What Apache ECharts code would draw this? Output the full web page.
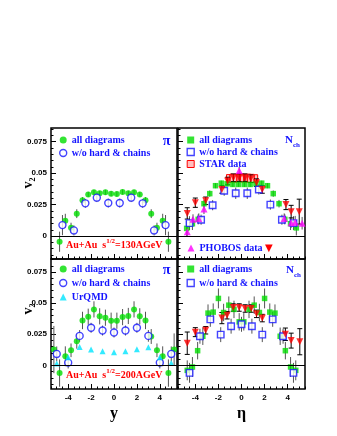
<!DOCTYPE html>
<html><head><meta charset="utf-8">
<script src="https://cdn.jsdelivr.net/npm/echarts@6/dist/echarts.min.js"></script>
<style>html,body{margin:0;padding:0;background:#fff}#c{width:337px;height:436px}</style>
</head><body><div id="c"></div>
<script>
// ---------- tick values ----------
const xTickLabels = [-4, -2, 0, 2, 4];
const xMinorTicks = [-5.5,-5,-4.5,-3.5,-3,-2.5,-1.5,-1,-0.5,0.5,1,1.5,2.5,3,3.5,4.5,5,5.5];
const yTickLabels = [0, 0.025, 0.05, 0.075];
const yMinorTicks = [-0.015,-0.01,-0.005,0.005,0.01,0.015,0.02,0.03,0.035,0.04,0.045,0.055,0.06,0.065,0.07,0.08,0.085];

// ---------- top-left: Au+Au 130 AGeV, pions vs y ----------
const tlGreenX = [-4.75,-4.25,-3.75,-3.25,-2.75,-2.25,-1.75,-1.25,-0.75,-0.25,0.25,0.75,1.25,1.75,2.25,2.75,3.25,3.75,4.25,4.75];
const tlGreenV = [-0.0045,0.0122,0.0066,0.0178,0.0284,0.0331,0.0347,0.0339,0.0347,0.0337,0.0334,0.035,0.0339,0.0347,0.0331,0.0284,0.0178,0.0066,0.0122,-0.0045];
const tlGreenE = [0.008,0.0055,0.004,0.0035,0.0025,0.002,0.002,0.002,0.002,0.002,0.002,0.002,0.002,0.002,0.002,0.0025,0.0035,0.004,0.0055,0.008];
const tlBlueX = [-4.5,-3.5,-2.5,-1.5,-0.5,0.5,1.5,2.5,3.5,4.5];
const tlBlueV = [0.0087,0.0045,0.026,0.0305,0.0262,0.0262,0.0305,0.026,0.0045,0.0087];
const tlBlueE = [0.008,0.004,0.0035,0.0035,0.0035,0.0035,0.0035,0.0035,0.004,0.008];

// ---------- top-right: 130 AGeV, charged vs eta ----------
const trGreenX = [-4.75,-4.25,-3.75,-3.25,-2.75,-2.25,-1.75,-1.25,-0.75,-0.25,0.25,0.75,1.25,1.75,2.25,2.75,3.25,3.75,4.25,4.75];
const trGreenV = [0.0061,0.0098,0.0133,0.0257,0.0337,0.0400,0.042,0.0415,0.041,0.041,0.041,0.041,0.0415,0.042,0.0400,0.0337,0.0257,0.0133,0.0098,0.0065];
const trGreenE = [0.006,0.005,0.004,0.003,0.0025,0.002,0.002,0.002,0.002,0.002,0.002,0.002,0.002,0.002,0.002,0.0025,0.003,0.004,0.005,0.006];
const trBlueX = [-4.5,-3.5,-2.5,-1.5,-0.5,0.5,1.5,2.5,3.5,4.5];
const trBlueV = [0.0103,0.013,0.0245,0.036,0.034,0.034,0.037,0.025,0.013,0.0103];
const trBlueE = [0.0055,0.004,0.004,0.004,0.0045,0.0045,0.004,0.004,0.004,0.0055];
const trPhobosDnX = [-4.7,-4.0,-3.1,-1.7,-1.2,-0.7,-0.2,0.3,0.8,1.3,1.8,3.85,4.3,5.0];
const trPhobosDnV = [0.018,0.0265,0.028,0.037,0.0437,0.0463,0.0463,0.0463,0.0455,0.0424,0.037,0.025,0.0194,0.0194];
const trPhobosDnE = [0.0045,0.0037,0.003,0.003,0.003,0.003,0.003,0.003,0.003,0.003,0.003,0.004,0.005,0.0099];
const trPhobosUpX = [-4.7,-4.2,-3.7,-3.25,-0.2,3.7,4.3,4.65,5.25];
const trPhobosUpV = [0.0035,0.0133,0.014,0.0215,0.052,0.014,0.0105,0.011,0.0102];
const trPhobosUpE = [0.004,0.004,0.004,0.004,0.003,0.004,0.004,0.005,0.005];
const starX = [-1.15,-0.85,-0.55,-0.25,0.05,0.35,0.65,0.95,1.25];
const starLo = [0.0425,0.0427,0.0427,0.0429,0.0429,0.0427,0.0427,0.0425,0.0423];
const starHi = [0.0488,0.0492,0.0492,0.0494,0.0494,0.0492,0.0492,0.049,0.0487];

// ---------- bottom-left: 200 AGeV, pions vs y ----------
const blGreenX = [-5.25,-4.75,-4.25,-3.75,-3.25,-2.75,-2.25,-1.75,-1.25,-0.75,-0.25,0.25,0.75,1.25,1.75,2.25,2.75,3.25,3.75,4.25,4.75,5.25];
const blGreenV = [0.0127,-0.0062,0.0073,0.0121,0.0194,0.0361,0.0391,0.045,0.0394,0.0383,0.0359,0.0359,0.0388,0.0397,0.045,0.0394,0.0361,0.0232,0.0121,0.0073,-0.0062,0.0127];
const blGreenE = [0.019,0.011,0.008,0.0055,0.006,0.007,0.0065,0.0065,0.0065,0.0065,0.0065,0.0065,0.0065,0.0065,0.0065,0.0065,0.007,0.006,0.0055,0.008,0.011,0.013];
const blBlueX = [-5,-4,-3,-2,-1,0,1,2,3,4,5];
const blBlueV = [0.0092,0.0022,0.0237,0.0302,0.028,0.0264,0.028,0.0302,0.0237,0.0022,0.0092];
const blBlueE = [0.006,0.0047,0.0047,0.004,0.004,0.004,0.004,0.004,0.0047,0.0047,0.006];
const blUrqmdX = [-5,-4,-3,-2,-1,0,1,2,3,4,5];
const blUrqmdV = [0.0015,0.0065,0.0148,0.0127,0.0113,0.0105,0.0113,0.0129,0.0145,0.0065,0.0019];

// ---------- bottom-right: 200 AGeV, charged vs eta ----------
const brGreenX = [-4.7,-4.25,-3.8,-3.35,-2.9,-2.45,-2.0,-1.55,-1.1,-0.65,-0.2,0.2,0.65,1.1,1.55,2.0,2.45,2.9,3.35,3.8,4.25,4.7];
const brGreenV = [-0.004,-0.0013,0.0118,0.0234,0.042,0.0428,0.0538,0.0425,0.0484,0.045,0.035,0.035,0.045,0.0484,0.0425,0.0538,0.0428,0.042,0.0234,0.0118,-0.0013,-0.004];
const brGreenE = [0.008,0.008,0.007,0.007,0.007,0.007,0.008,0.007,0.007,0.007,0.007,0.007,0.007,0.007,0.007,0.008,0.007,0.007,0.007,0.007,0.008,0.008];
const brBlueX = [-4.5,-3.6,-2.7,-1.8,-0.9,0,0.9,1.8,2.7,3.6,4.5];
const brBlueV = [-0.006,0.0234,0.037,0.0247,0.0315,0.033,0.0315,0.0247,0.037,0.0234,-0.006];
const brBlueE = [0.008,0.006,0.006,0.006,0.006,0.006,0.006,0.006,0.006,0.006,0.008];
const brPhobosDnX = [-4.7,-4.0,-3.1,-1.7,-1.25,-0.72,-0.2,0.32,0.84,1.3,1.8,3.8,4.3,5.05];
const brPhobosDnV = [0.0178,0.0267,0.0282,0.038,0.0403,0.0465,0.0465,0.0457,0.0457,0.0414,0.038,0.025,0.0199,0.019];
const brPhobosDnE = [0.009,0.0036,0.003,0.0045,0.003,0.003,0.003,0.003,0.003,0.003,0.003,0.005,0.006,0.0105];

// ---------- styling ----------
const GREEN = '#00dd00', BLUE = '#1414ff', RED = '#ff0000', MAG = '#ff00ff', CYAN = '#00e5ff';
const BAR = '#555555';
const SERIF = '"Liberation Serif", "DejaVu Serif", serif';
const SANS = '"Liberation Sans", Arial, sans-serif';

const chart = echarts.init(document.getElementById('c'), null, {renderer: 'canvas'});

const grids = [
  {left: 51, top: 128, width: 126, height: 131},
  {left: 178, top: 128, width: 127, height: 131},
  {left: 51, top: 259, width: 126, height: 130},
  {left: 178, top: 259, width: 127, height: 130}
].map(g => Object.assign(g, {show: true, borderColor: '#000', borderWidth: 1.5, backgroundColor: 'transparent'}));

const yRanges = [[-0.0182, 0.0858], [-0.0182, 0.0858], [-0.019, 0.0855], [-0.019, 0.0855]];

const xAxes = [], yAxes = [];
for (let g = 0; g < 4; g++) {
  const bottom = g >= 2;
  xAxes.push({
    type: 'value', gridIndex: g, min: -5.5, max: 5.5, position: 'bottom',
    axisLine: {show: false, onZero: false},
    axisTick: {show: true, inside: true, length: 5, customValues: xTickLabels, lineStyle: {color: '#000', width: 1}},
    axisLabel: {show: bottom, customValues: xTickLabels, margin: 5, fontSize: 8, fontWeight: 'bold', fontFamily: SANS, color: '#000',
      formatter: v => String(v)},
    splitLine: {show: false},
    name: bottom ? (g === 2 ? 'y' : 'η') : '', nameLocation: 'middle', nameGap: 17,
    nameTextStyle: {fontSize: 16, fontWeight: 'bold', fontFamily: SERIF, color: '#000'}
  });
  yAxes.push({
    type: 'value', gridIndex: g, min: yRanges[g][0], max: yRanges[g][1], position: 'left',
    axisLine: {show: false, onZero: false},
    axisTick: {show: true, inside: true, length: 5, customValues: yTickLabels, lineStyle: {color: '#000', width: 1}},
    axisLabel: {show: g % 2 === 0, customValues: yTickLabels, margin: 4, fontSize: 8, fontWeight: 'bold', fontFamily: SANS, color: '#000',
      formatter: v => String(v)},
    splitLine: {show: false}
  });
}
for (let g = 0; g < 4; g++) {
  xAxes.push({
    type: 'value', gridIndex: g, min: -5.5, max: 5.5, position: 'bottom',
    axisLine: {show: false, onZero: false},
    axisTick: {show: true, inside: true, length: 2.5, customValues: xMinorTicks, lineStyle: {color: '#000', width: 1}},
    axisLabel: {show: false}, splitLine: {show: false}
  });
  yAxes.push({
    type: 'value', gridIndex: g, min: yRanges[g][0], max: yRanges[g][1], position: 'left',
    axisLine: {show: false, onZero: false},
    axisTick: {show: true, inside: true, length: 2.5, customValues: yMinorTicks, lineStyle: {color: '#000', width: 1}},
    axisLabel: {show: false}, splitLine: {show: false}
  });
}

function zip(xs, vs) { return xs.map((x, i) => [x, vs[i]]); }
function zip3(xs, vs, es) { return xs.map((x, i) => [x, vs[i], es[i]]); }

function errSeries(g, xs, vs, es, color, cap) {
  return {
    type: 'custom', xAxisIndex: g, yAxisIndex: g, clip: true, silent: true, z: 2, animation: false,
    encode: {x: 0, y: 1},
    data: zip3(xs, vs, es),
    renderItem: (params, api) => {
      const x = api.value(0), v = api.value(1), e = api.value(2);
      const lo = api.coord([x, v - e]), hi = api.coord([x, v + e]);
      const st = {stroke: color, lineWidth: 1};
      const ch = [{type: 'line', shape: {x1: lo[0], y1: lo[1], x2: hi[0], y2: hi[1]}, style: st}];
      if (cap) {
        ch.push({type: 'line', shape: {x1: lo[0] - cap, y1: lo[1], x2: lo[0] + cap, y2: lo[1]}, style: st});
        ch.push({type: 'line', shape: {x1: hi[0] - cap, y1: hi[1], x2: hi[0] + cap, y2: hi[1]}, style: st});
      }
      return {type: 'group', children: ch};
    }
  };
}

function scat(name, g, xs, vs, symbol, size, itemStyle, rot, extra) {
  return Object.assign({
    type: 'scatter', name, xAxisIndex: g, yAxisIndex: g, symbol, symbolSize: size, symbolRotate: rot || 0,
    itemStyle, data: zip(xs, vs), z: 3, silent: true, animation: false
  }, extra || {});
}

const zeroLine = {silent: true, symbol: 'none', animation: false, label: {show: false},
  lineStyle: {color: '#000', width: 1.2, type: 'solid'}, data: [{yAxis: 0}]};

const openBlue = {color: '#ffffff', borderColor: BLUE, borderWidth: 1.4};

const series = [
  // grid 0
  errSeries(0, tlGreenX, tlGreenV, tlGreenE, BAR),
  errSeries(0, tlBlueX, tlBlueV, tlBlueE, BAR),
  scat('all diagrams#0', 0, tlGreenX, tlGreenV, 'circle', 6, {color: GREEN}, 0, {markLine: zeroLine}),
  scat('w/o hard & chains#0', 0, tlBlueX, tlBlueV, 'circle', 7, openBlue),
  // grid 1
  {
    type: 'custom', name: 'STAR data#1', xAxisIndex: 1, yAxisIndex: 1, silent: true, z: 1, animation: false,
    encode: {x: 0, y: [1, 2]},
    itemStyle: {color: 'rgba(255,110,110,0.45)', borderColor: RED, borderWidth: 1},
    data: starX.map((x, i) => [x, starLo[i], starHi[i]]),
    renderItem: (params, api) => {
      const x = api.value(0), a = api.coord([x - 0.15, api.value(2)]), b = api.coord([x + 0.15, api.value(1)]);
      return {type: 'rect', shape: {x: a[0], y: a[1], width: b[0] - a[0], height: b[1] - a[1]},
        style: {fill: 'rgba(255,110,110,0.45)', stroke: RED, lineWidth: 1}};
    }
  },
  errSeries(1, trGreenX, trGreenV, trGreenE, BAR),
  errSeries(1, trBlueX, trBlueV, trBlueE, BAR),
  errSeries(1, trPhobosUpX, trPhobosUpV, trPhobosUpE, BAR),
  errSeries(1, trPhobosDnX, trPhobosDnV, trPhobosDnE, '#000', 2.5),
  scat('all diagrams#1', 1, trGreenX, trGreenV, 'rect', 5.5, {color: GREEN}, 0, {markLine: zeroLine}),
  scat('w/o hard & chains#1', 1, trBlueX, trBlueV, 'rect', 6.5, openBlue),
  scat('PHOBOS data#1', 1, trPhobosUpX, trPhobosUpV, 'triangle', 7, {color: MAG}),
  scat('PHOBOS dn#1', 1, trPhobosDnX, trPhobosDnV, 'triangle', 7, {color: RED}, 180),
  // grid 2
  errSeries(2, blGreenX, blGreenV, blGreenE, BAR),
  errSeries(2, blBlueX, blBlueV, blBlueE, BAR),
  scat('all diagrams#2', 2, blGreenX, blGreenV, 'circle', 6, {color: GREEN}, 0, {markLine: zeroLine}),
  scat('w/o hard & chains#2', 2, blBlueX, blBlueV, 'circle', 7, openBlue),
  scat('UrQMD#2', 2, blUrqmdX, blUrqmdV, 'triangle', 6, {color: CYAN}),
  // grid 3
  errSeries(3, brGreenX, brGreenV, brGreenE, BAR),
  errSeries(3, brBlueX, brBlueV, brBlueE, BAR),
  errSeries(3, brPhobosDnX, brPhobosDnV, brPhobosDnE, '#000', 2.5),
  scat('all diagrams#3', 3, brGreenX, brGreenV, 'rect', 5.5, {color: GREEN}, 0, {markLine: zeroLine}),
  scat('w/o hard & chains#3', 3, brBlueX, brBlueV, 'rect', 6.5, openBlue),
  scat('PHOBOS dn#3', 3, brPhobosDnX, brPhobosDnV, 'triangle', 7, {color: RED}, 180)
];

const legTxt = {color: BLUE, fontFamily: SERIF, fontWeight: 'bold', fontSize: 10, lineHeight: 12};
function legend(left, top, gap, data) {
  return {orient: 'vertical', left, top, itemGap: gap, itemWidth: 7, itemHeight: 7, padding: 0,
    selectedMode: false, data, formatter: n => n.split('#')[0], textStyle: legTxt};
}

const legends = [
  legend(59, 134, 1, [
    {name: 'all diagrams#0', icon: 'circle', itemStyle: {color: GREEN}},
    {name: 'w/o hard & chains#0', icon: 'circle', itemStyle: openBlue}
  ]),
  legend(186.5, 134, 0, [
    {name: 'all diagrams#1', icon: 'rect', itemStyle: {color: GREEN}},
    {name: 'w/o hard & chains#1', icon: 'rect', itemStyle: openBlue},
    {name: 'STAR data#1', icon: 'rect', itemStyle: {color: 'rgba(255,110,110,0.45)', borderColor: RED, borderWidth: 1}}
  ]),
  legend(59, 263, 2, [
    {name: 'all diagrams#2', icon: 'circle', itemStyle: {color: GREEN}},
    {name: 'w/o hard & chains#2', icon: 'circle', itemStyle: openBlue},
    {name: 'UrQMD#2', icon: 'triangle', itemStyle: {color: CYAN}}
  ]),
  legend(186.5, 263, 2, [
    {name: 'all diagrams#3', icon: 'rect', itemStyle: {color: GREEN}},
    {name: 'w/o hard & chains#3', icon: 'rect', itemStyle: openBlue}
  ]),
  {orient: 'horizontal', left: 187.5, top: 242, itemWidth: 7, itemHeight: 7, padding: 0, selectedMode: false,
   data: [{name: 'PHOBOS data#1', icon: 'triangle', itemStyle: {color: MAG}}],
   formatter: () => '{a|PHOBOS data} {b|▼}',
   textStyle: Object.assign({}, legTxt, {rich: {
     a: {color: BLUE, fontFamily: SERIF, fontWeight: 'bold', fontSize: 10},
     b: {color: RED, fontSize: 10, fontFamily: '"DejaVu Sans", sans-serif'}}})}
];

const energyRich = {
  a: {fill: RED, font: 'bold 10px ' + SERIF, lineHeight: 12, verticalAlign: 'bottom'},
  b: {fill: RED, font: 'bold 7px ' + SERIF, lineHeight: 12, verticalAlign: 'top'}
};

const graphic = [
  {type: 'text', x: 166.5, y: 141, silent: true, style: {text: 'π', fill: BLUE, font: 'bold 14px ' + SERIF, align: 'center', verticalAlign: 'middle'}},
  {type: 'text', x: 166.5, y: 270, silent: true, style: {text: 'π', fill: BLUE, font: 'bold 14px ' + SERIF, align: 'center', verticalAlign: 'middle'}},
  {type: 'text', x: 285, y: 140, silent: true, style: {text: 'N', fill: BLUE, font: 'bold 11px ' + SERIF, align: 'left', verticalAlign: 'middle'}},
  {type: 'text', x: 293, y: 145, silent: true, style: {text: 'ch', fill: BLUE, font: 'bold 7px ' + SERIF, align: 'left', verticalAlign: 'middle'}},
  {type: 'text', x: 286, y: 270, silent: true, style: {text: 'N', fill: BLUE, font: 'bold 11px ' + SERIF, align: 'left', verticalAlign: 'middle'}},
  {type: 'text', x: 294, y: 275, silent: true, style: {text: 'ch', fill: BLUE, font: 'bold 7px ' + SERIF, align: 'left', verticalAlign: 'middle'}},
  {type: 'text', x: 66, y: 244, silent: true, style: {text: '{a|Au+Au  s}{b|1/2}{a|=130AGeV}', rich: energyRich, align: 'left', verticalAlign: 'middle'}},
  {type: 'text', x: 66, y: 374, silent: true, style: {text: '{a|Au+Au  s}{b|1/2}{a|=200AGeV}', rich: energyRich, align: 'left', verticalAlign: 'middle'}},
  {type: 'text', x: 29, y: 183, rotation: Math.PI / 2, silent: true, style: {text: '{v|v}{s|2}', align: 'center', verticalAlign: 'middle',
    rich: {v: {fill: '#000', font: 'bold 14px ' + SERIF, lineHeight: 16, verticalAlign: 'top'}, s: {fill: '#000', font: 'bold 8px ' + SERIF, lineHeight: 16, verticalAlign: 'bottom'}}}},
  {type: 'text', x: 29, y: 309, rotation: Math.PI / 2, silent: true, style: {text: '{v|v}{s|2}', align: 'center', verticalAlign: 'middle',
    rich: {v: {fill: '#000', font: 'bold 14px ' + SERIF, lineHeight: 16, verticalAlign: 'top'}, s: {fill: '#000', font: 'bold 8px ' + SERIF, lineHeight: 16, verticalAlign: 'bottom'}}}}
];

chart.setOption({
  animation: false,
  backgroundColor: '#ffffff',
  grid: grids,
  xAxis: xAxes,
  yAxis: yAxes,
  legend: legends,
  series,
  graphic
});
</script></body></html>
